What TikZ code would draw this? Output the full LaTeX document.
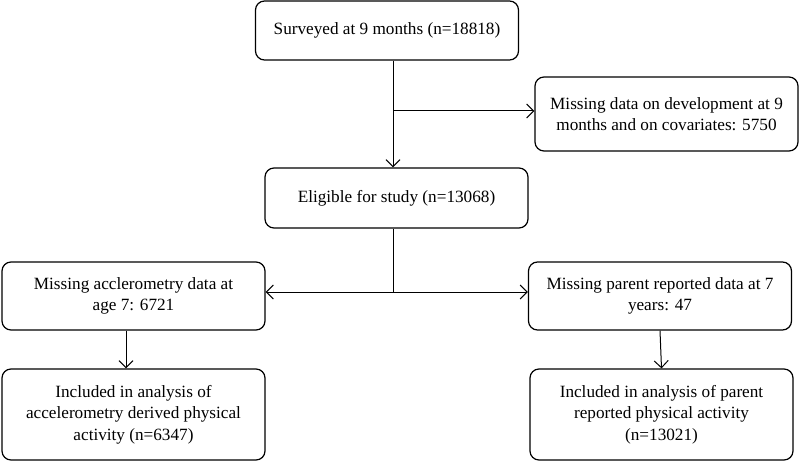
\documentclass[tikz,border=0pt]{standalone}
\usepackage{fontspec}
\setmainfont{Liberation Serif}
\usepackage{tikz}
\usetikzlibrary{calc}
\usetikzlibrary{arrows.meta}

\tikzset{
    box/.style={draw, rounded corners=9pt, line width=1.2pt, align=center,
        minimum width=263pt, font=\fontsize{17.2}{21.5}\selectfont},
    link/.style={line width=1pt},
    arr/.style={link, -{Straight Barb[length=7pt,width=14pt]}}
}

\begin{document}
\begin{tikzpicture}[x=1pt,y=1pt]
        %BATAS
        \useasboundingbox (0,0) rectangle (800,-462);
        %KOORDINAT
        \coordinate (T) at (393,0);
        \coordinate (R1) at (0,-111);
        \coordinate (R2) at (0,-292);
        \coordinate (D1) at (126,0);
        %KOTAK
        \node[box, minimum height=59pt] (surv) at (387,-30.5) {Surveyed at 9 months (n=18818)};
        \node[box, minimum height=74pt] (miss) at (666.5,-114) {Missing data on development at 9\\months and on covariates: 5750};
        \node[box, minimum height=60pt] (elig) at (396.5,-198) {Eligible for study (n=13068)};
        \node[box, minimum height=68pt] (accmiss) at (133.5,-296) {Missing acclerometry data at\\age 7: 6721};
        \node[box, minimum height=68pt] (parmiss) at (660,-296) {Missing parent reported data at 7\\years: 47};
        \node[box, minimum height=91pt] (accinc) at (133.5,-414.5) {Included in analysis of\\accelerometry derived physical\\activity (n=6347)};
        \node[box, minimum height=91pt] (parinc) at (661.5,-414.5) {Included in analysis of parent\\reported physical activity\\(n=13021)};
        %PANAH
        \draw[arr] (surv.south -| T) -- (elig.north -| T);
        \draw[arr] (T |- R1) -- (miss.west |- R1);
        \draw[link] (elig.south -| T) -- (T |- R2);
        \draw[arr] (T |- R2) -- (accmiss.east |- R2);
        \draw[arr] (T |- R2) -- (parmiss.west |- R2);
        \draw[arr] (accmiss.south -| D1) -- (accinc.north -| D1);
        \draw[arr] (parmiss.south) -- (parinc.north);
    \end{tikzpicture}
\end{document}
